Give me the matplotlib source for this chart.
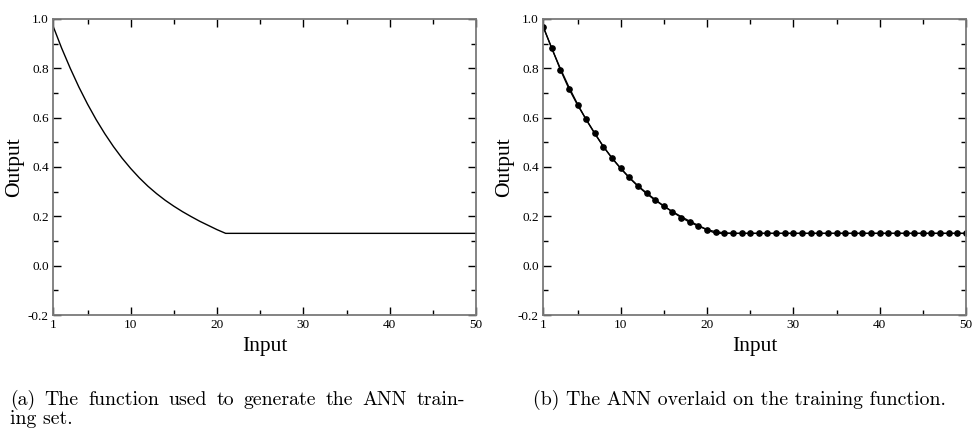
import numpy as np
import matplotlib.pyplot as plt
from matplotlib.ticker import MultipleLocator, FixedLocator

# training function (a): decays to a floor at x = 21, then flat
func_x = [1, 2, 3, 4, 5, 6, 7, 8, 9, 10, 11, 12, 13, 14, 15, 16, 17, 18, 19, 20, 21, 50]
func_y = [0.972, 0.882, 0.800, 0.724, 0.655, 0.592, 0.535, 0.483, 0.436, 0.394,
          0.356, 0.322, 0.292, 0.265, 0.241, 0.219, 0.199, 0.180, 0.163, 0.146, 0.131, 0.131]

# ANN output (b), one point per integer input
ann_x = list(range(1, 51))
ann_y = [0.969, 0.884, 0.795, 0.717, 0.651, 0.593, 0.537, 0.482, 0.436, 0.395,
         0.358, 0.324, 0.295, 0.268, 0.242, 0.218, 0.195, 0.176, 0.160, 0.146,
         0.138, 0.133, 0.131] + [0.131] * 27

xticks = [1, 10, 20, 30, 40, 50]
xminor = [5, 15, 25, 35, 45]
yticks = [-0.2, 0.0, 0.2, 0.4, 0.6, 0.8, 1.0]

cap_a1 = '(a) The function used to generate the ANN train-'
cap_a2 = 'ing set.'
cap_b = '(b) The ANN overlaid on the training function.'

fig = plt.figure(figsize=(9.72, 4.30), dpi=100)
W, H = 972.0, 430.0
ax1 = fig.add_axes([53 / W, 1 - 315 / H, 423 / W, 296 / H])
ax2 = fig.add_axes([543 / W, 1 - 315 / H, 423 / W, 296 / H])

ax1.plot(func_x, func_y, color='black', lw=1.0)
ax2.plot(func_x, func_y, color='black', lw=1.0)
ax2.plot(ann_x, ann_y, color='black', lw=0.9, marker='o', ms=3.8, mec='black', mfc='black')

for ax in (ax1, ax2):
    ax.set_xlim(1, 50)
    ax.set_ylim(-0.2, 1.0)
    ax.set_xticks(xticks)
    ax.xaxis.set_minor_locator(FixedLocator(xminor))
    ax.set_yticks(yticks)
    ax.yaxis.set_minor_locator(MultipleLocator(0.1))
    ax.set_yticklabels(['%.1f' % v for v in yticks])
    ax.tick_params(which='both', direction='in', top=True, right=True,
                   color='black', width=1.0, labelsize=9.5, pad=3)
    ax.tick_params(which='major', length=6)
    ax.tick_params(which='minor', length=3.5)
    for lbl in ax.get_xticklabels() + ax.get_yticklabels():
        lbl.set_family('Liberation Serif')
    for s in ax.spines.values():
        s.set_color('#7a7a7a')
        s.set_linewidth(1.3)
    ax.set_xlabel('Input', family='Liberation Serif', fontsize=15.5, labelpad=4)
    ax.set_ylabel('Output', family='Liberation Serif', fontsize=15.5, labelpad=3)

cap_font = dict(family='cmr10', fontsize=14.3, va='center', ha='left')
renderer = fig.canvas.get_renderer()


def justified(text, x0, x1, y):
    # spread words across x0..x1 like a justified LaTeX line
    words = text.split(' ')
    objs = [fig.text(0, 1 - y / H, w, **cap_font) for w in words]
    widths = [o.get_window_extent(renderer).width for o in objs]
    gap = (x1 - x0 - sum(widths)) / (len(words) - 1)
    x = x0
    for o, w in zip(objs, widths):
        o.set_x(x / W)
        x += w + gap


justified(cap_a1, 10, 465, 400)
fig.text(10 / W, 1 - 419 / H, cap_a2, **cap_font)
fig.text(533 / W, 1 - 400 / H, cap_b, **cap_font)

fig.savefig('out.png', dpi=100)
